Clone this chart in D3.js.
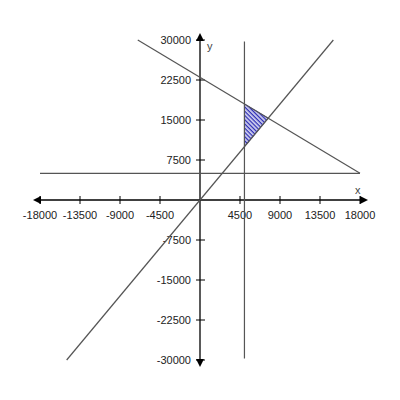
<!DOCTYPE html>
<html>
<head>
<meta charset="utf-8">
<script src="https://cdn.jsdelivr.net/npm/d3@7"></script>
<style>
  body { margin: 0; background: #fff; }
  svg { display: block; }
</style>
</head>
<body>
<svg id="chart" width="400" height="400"></svg>
<script>
const xTicks = [-18000, -13500, -9000, -4500, 4500, 9000, 13500, 18000];
const yTicks = [-30000, -22500, -15000, -7500, 7500, 15000, 22500, 30000];

// lines drawn on the grid, as end points [x, y]
const lineSum = [[-7000, 30000], [18000, 5000]];     // x + y = 23000
const lineDouble = [[-15000, -30000], [15000, 30000]]; // y = 2x
const lineHoriz = [[-18000, 5000], [18000, 5000]];   // y = 5000
const lineVert = [[5000, 29700], [5000, -29700]];    // x = 5000

// shaded feasible region
const region = [[5000, 10000], [5000, 18000], [7667, 15333]];

const svg = d3.select('#chart');
const width = 400;
const height = 400;
const margin = { top: 40, right: 40, bottom: 40, left: 40 };

const x = d3.scaleLinear()
  .domain([-18000, 18000])
  .range([margin.left, width - margin.right]);

const y = d3.scaleLinear()
  .domain([-30000, 30000])
  .range([height - margin.bottom, margin.top]);

const defs = svg.append('defs');
defs.append('pattern')
  .attr('id', 'hatch')
  .attr('patternUnits', 'userSpaceOnUse')
  .attr('width', 3)
  .attr('height', 3)
  .attr('patternTransform', 'rotate(-45)')
  .append('rect')
  .attr('x', 0.6).attr('y', 0)
  .attr('width', 1.6).attr('height', 3)
  .attr('fill', '#2a2ab4');

const line = d3.line()
  .x((d) => x(d[0]))
  .y((d) => y(d[1]));

// shaded region
svg.append('path')
  .datum(region)
  .attr('d', d3.line().x((d) => x(d[0])).y((d) => y(d[1])).curve(d3.curveLinearClosed))
  .attr('fill', 'url(#hatch)')
  .attr('stroke', '#4444bb')
  .attr('stroke-width', 1);

// x axis
const xAxis = svg.append('g')
  .attr('transform', `translate(0,${y(0)})`);
xAxis.append('line')
  .attr('x1', 36).attr('x2', 364)
  .attr('stroke', '#000').attr('stroke-width', 1.3);
xAxis.selectAll('.tick')
  .data(xTicks)
  .enter()
  .append('line')
  .attr('x1', (d) => x(d)).attr('x2', (d) => x(d))
  .attr('y1', -4).attr('y2', 4)
  .attr('stroke', '#000').attr('stroke-width', 1);
xAxis.selectAll('text')
  .data(xTicks)
  .enter()
  .append('text')
  .attr('x', (d) => x(d))
  .attr('y', 19)
  .attr('text-anchor', 'middle')
  .attr('font-family', 'Liberation Sans, Arial, sans-serif')
  .attr('font-size', 11)
  .attr('fill', '#222')
  .text((d) => d);

// y axis
const yAxis = svg.append('g')
  .attr('transform', `translate(${x(0)},0)`);
yAxis.append('line')
  .attr('y1', 36).attr('y2', 364)
  .attr('stroke', '#000').attr('stroke-width', 1.3);
yAxis.selectAll('.tick')
  .data(yTicks)
  .enter()
  .append('line')
  .attr('y1', (d) => y(d)).attr('y2', (d) => y(d))
  .attr('x1', -4).attr('x2', 5)
  .attr('stroke', '#000').attr('stroke-width', 1);
yAxis.selectAll('text')
  .data(yTicks)
  .enter()
  .append('text')
  .attr('x', -9)
  .attr('y', (d) => y(d))
  .attr('dy', '0.35em')
  .attr('text-anchor', 'end')
  .attr('font-family', 'Liberation Sans, Arial, sans-serif')
  .attr('font-size', 11)
  .attr('fill', '#222')
  .text((d) => d);

// arrow heads
const arrows = [
  { p: [x(18000) + 8, y(0)], r: 0 },
  { p: [x(-18000) - 7, y(0)], r: 180 },
  { p: [x(0), y(30000) - 7], r: -90 },
  { p: [x(0), y(-30000) + 7], r: 90 }
];
svg.append('g')
  .selectAll('path')
  .data(arrows)
  .enter()
  .append('path')
  .attr('d', 'M0,0 L-8,-4 L-8,4 Z')
  .attr('transform', (d) => `translate(${d.p[0]},${d.p[1]}) rotate(${d.r})`)
  .attr('fill', '#000');

// axis names
svg.append('text')
  .attr('x', x(18000) - 5).attr('y', y(0) - 6)
  .attr('font-family', 'Liberation Sans, Arial, sans-serif')
  .attr('font-size', 11).attr('fill', '#444')
  .text('x');
svg.append('text')
  .attr('x', x(0) + 7).attr('y', y(30000) + 10)
  .attr('font-family', 'Liberation Sans, Arial, sans-serif')
  .attr('font-size', 11).attr('fill', '#444')
  .text('y');

// constraint lines
svg.append('g')
  .selectAll('path')
  .data([lineSum, lineDouble, lineHoriz, lineVert])
  .enter()
  .append('path')
  .attr('d', line)
  .attr('fill', 'none')
  .attr('stroke', '#555')
  .attr('stroke-width', 1.2);
</script>
</body>
</html>
